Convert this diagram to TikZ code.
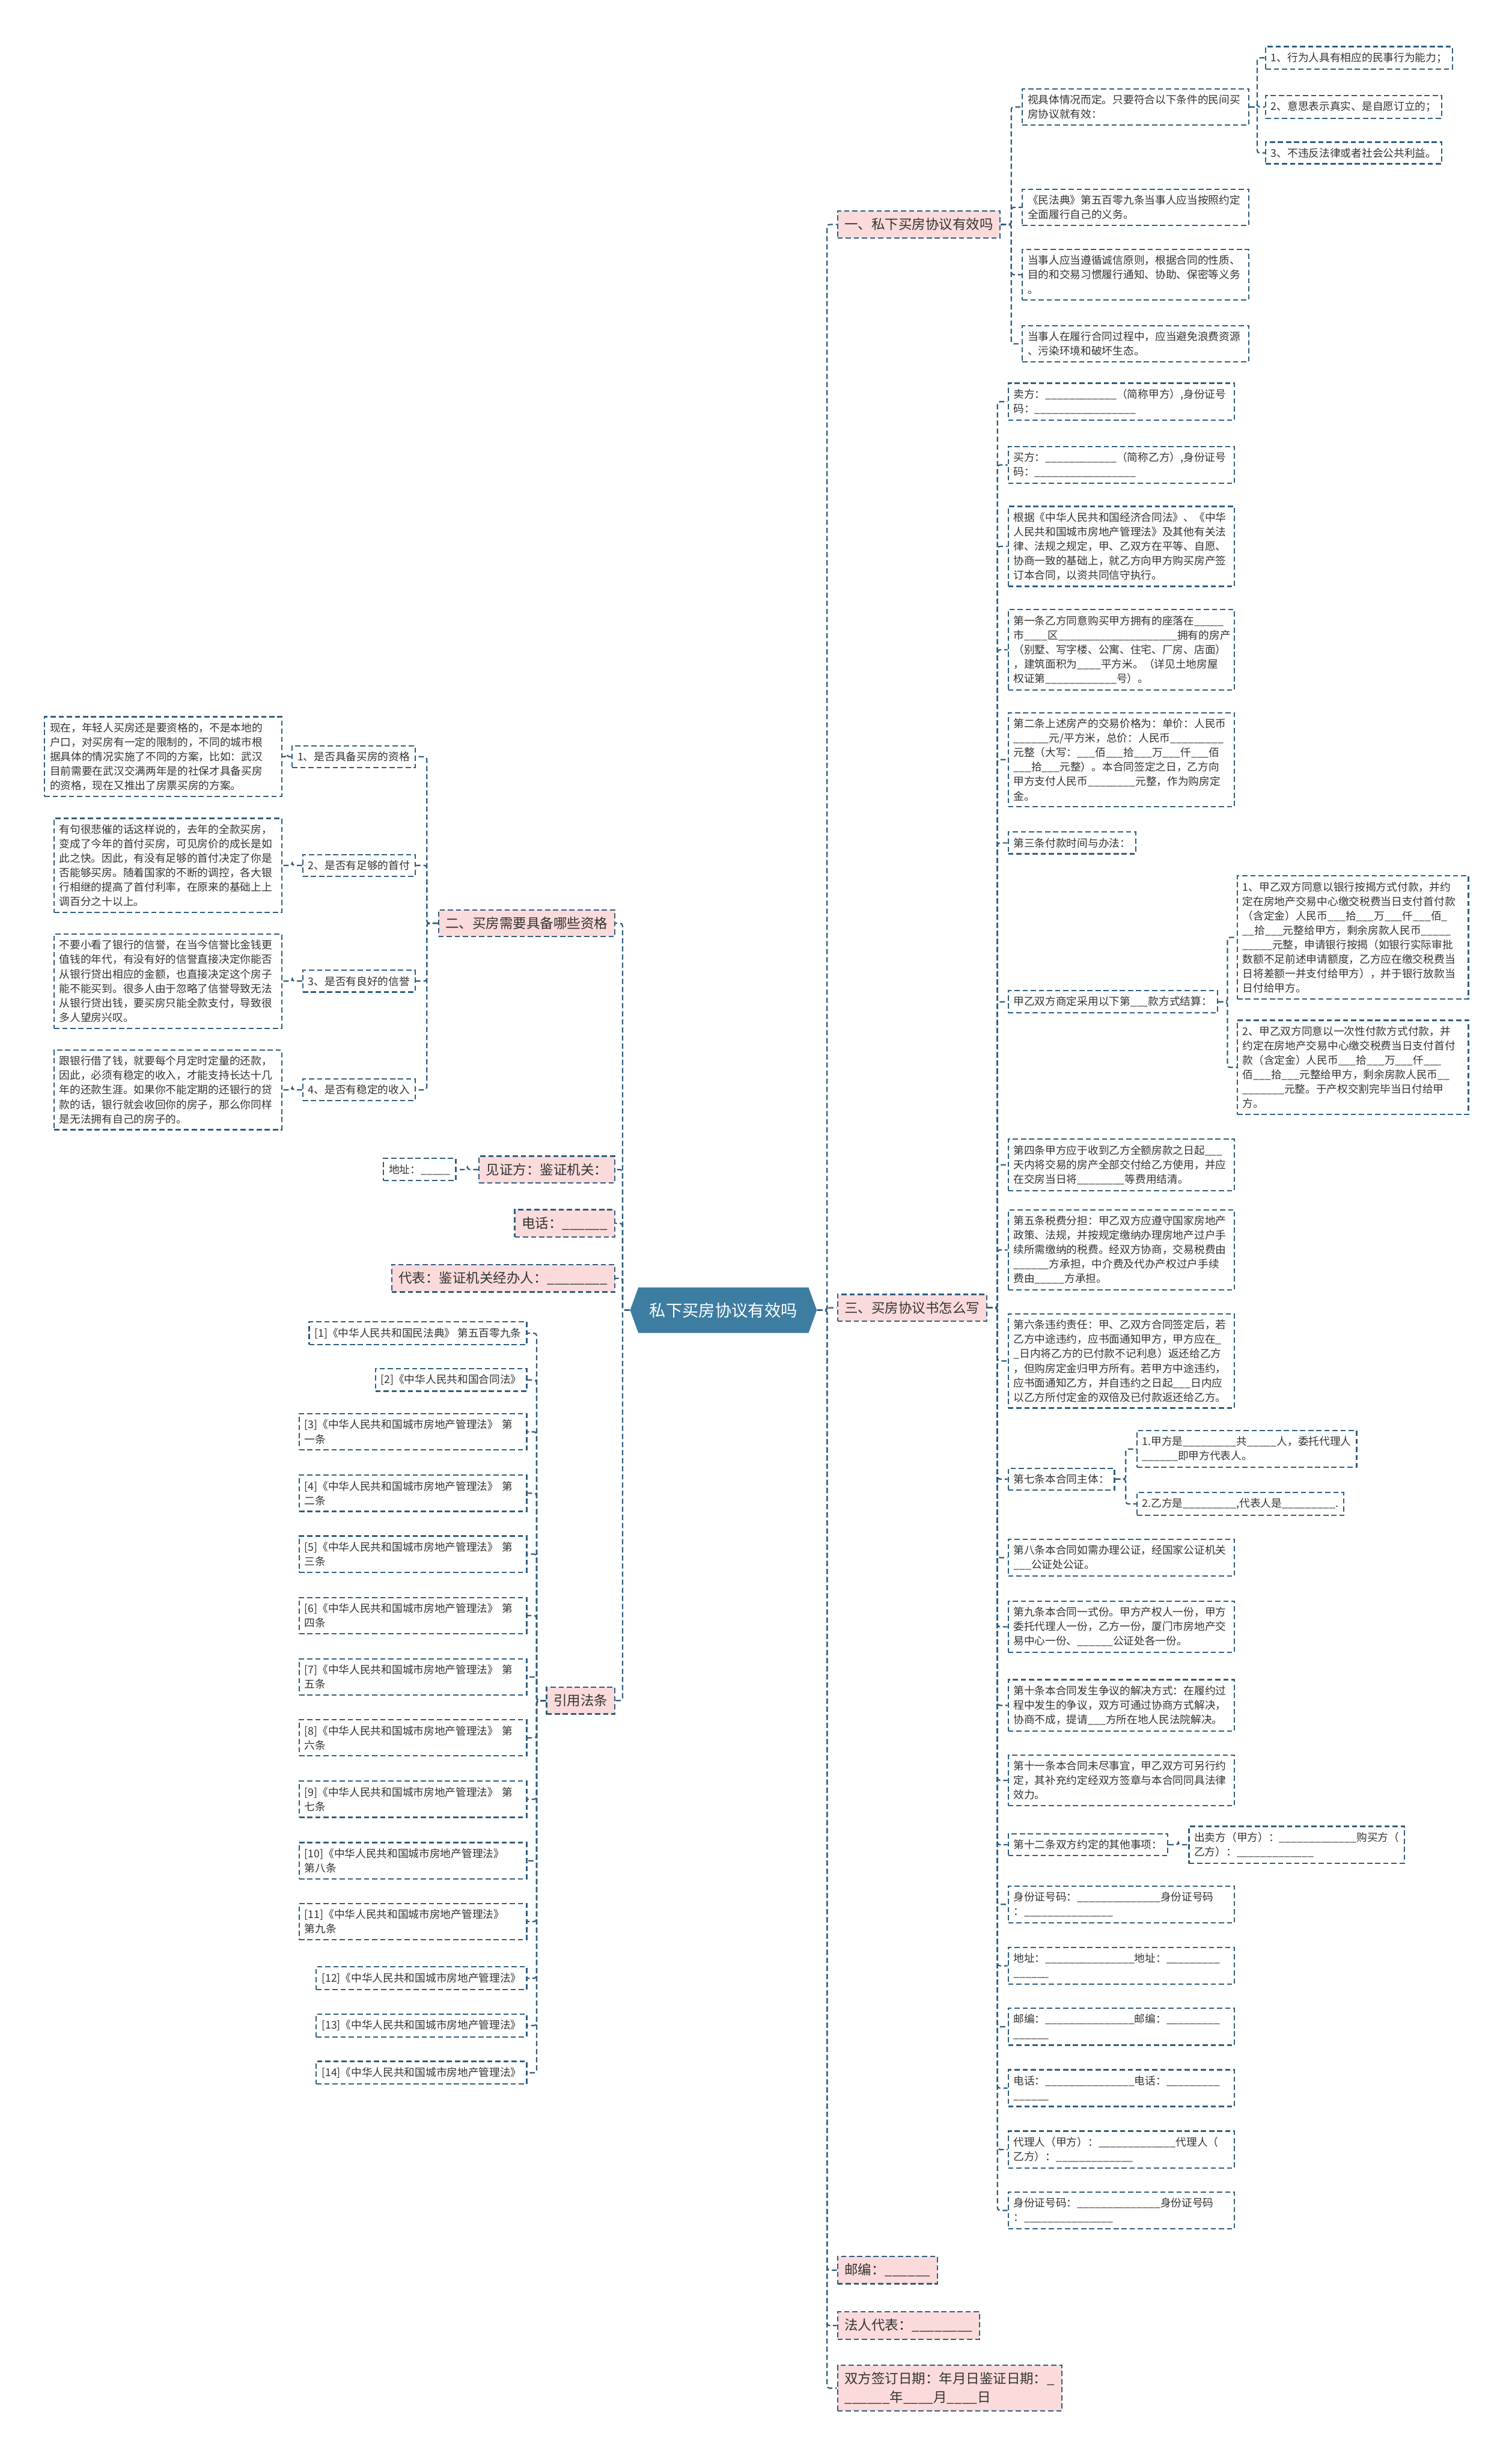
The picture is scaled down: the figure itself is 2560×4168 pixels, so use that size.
\documentclass[tikz,border=0pt]{standalone}
\usepackage{fontspec}
\setmainfont{Noto Sans CJK SC}
\usepackage{tikz}
\usetikzlibrary{backgrounds,calc,shapes.symbols}
\definecolor{linkcolor}{HTML}{2F5E80}
\definecolor{branchfill}{HTML}{FADADA}
\definecolor{rootfill}{HTML}{3E7DA2}
\definecolor{textcolor}{HTML}{333333}
\newcommand{\blk}[1]{\foreach\k in {1,...,#1}{\_}}
\tikzset{
  root node/.style={
    signal,
    signal to=east and west,
    signal pointer angle=140,
    fill=rootfill,
    text=white,
    minimum width=3.16cm,
    minimum height=0.77cm,
    inner sep=0pt,
    font=\fontsize{7.9pt}{9pt}\selectfont
  },
  branch node/.style={
    draw=linkcolor,
    fill=branchfill,
    dash pattern=on 2.5pt off 1.4pt,
    line width=0.65pt,
    inner sep=0.12cm,
    align=left,
    text=textcolor,
    font=\fontsize{6.5pt}{8.8pt}\selectfont
  },
  leaf node/.style={
    draw=linkcolor,
    fill=white,
    dash pattern=on 2.5pt off 1.4pt,
    line width=0.65pt,
    inner xsep=0.09cm,
    inner ysep=0.1cm,
    align=left,
    text=textcolor,
    font=\fontsize{5.12pt}{6.97pt}\selectfont
  },
  wide/.style={text width=#1},
  wide/.default=3.65cm,
  elbow/.style={
    to path={-- ($(\tikztostart)!0.5!(\tikztotarget |- \tikztostart)$) |- (\tikztotarget)}
  },
  link/.style={
    draw=linkcolor,
    line width=0.65pt,
    dash pattern=on 2.5pt off 1.4pt,
    rounded corners=1.2pt,
    elbow
  }
}
\newcommand{\connectright}[2]{%
  \begin{scope}[on background layer]
    \foreach \c in {#2}{
      \draw[link] (#1.east) to (\c.west);
    }
  \end{scope}
}
\newcommand{\connectleft}[2]{%
  \begin{scope}[on background layer]
    \foreach \c in {#2}{
      \draw[link] (#1.west) to (\c.east);
    }
  \end{scope}
}

\begin{document}
\begin{tikzpicture}[x=0.01cm,y=-0.01cm]
  \begin{scope}[on background layer]
    \path[use as bounding box,fill=white] (0,0) rectangle (2560,4168);
  \end{scope}

  \node[root node] (root) at (1225,2218) {私下买房协议有效吗};

  % right side
  \node[branch node,anchor=west] (sec1) at (1417,380) {一、私下买房协议有效吗};
  \node[branch node,anchor=west] (sec3) at (1417,2214) {三、买房协议书怎么写};
  \node[branch node,anchor=west] (zip) at (1417,3843) {邮编：\blk{6}};
  \node[branch node,anchor=west] (legal) at (1417,3937) {法人代表：\blk{8}};
  \node[branch node,anchor=west] (date) at (1417,4043)
    {双方签订日期：年月日鉴证日期：\_\\\blk{6}年\blk{4}月\blk{4}日};

  \node[leaf node,wide,anchor=west] (a1) at (1730,181)
    {视具体情况而定。只要符合以下条件的民间买\\房协议就有效：};
  \node[leaf node,wide,anchor=west] (a2) at (1730,351)
    {《民法典》第五百零九条当事人应当按照约定\\全面履行自己的义务。};
  \node[leaf node,wide,anchor=west] (a3) at (1730,465)
    {当事人应当遵循诚信原则，根据合同的性质、\\目的和交易习惯履行通知、协助、保密等义务\\。};
  \node[leaf node,wide,anchor=west] (a4) at (1730,582)
    {当事人在履行合同过程中，应当避免浪费资源\\、污染环境和破坏生态。};

  \node[leaf node,anchor=west] (n1) at (2142,98) {1、行为人具有相应的民事行为能力；};
  \node[leaf node,anchor=west] (n2) at (2142,181) {2、意思表示真实、是自愿订立的；};
  \node[leaf node,anchor=west] (n3) at (2142,259) {3、不违反法律或者社会公共利益。};

  \node[leaf node,wide,anchor=west] (b1) at (1706,680)
    {卖方：\blk{12}（简称甲方）,身份证号\\码：\blk{17}};
  \node[leaf node,wide,anchor=west] (b2) at (1706,787)
    {买方：\blk{12}（简称乙方）,身份证号\\码：\blk{17}};
  \node[leaf node,wide,anchor=west] (b3) at (1706,925)
    {根据《中华人民共和国经济合同法》、《中华\\人民共和国城市房地产管理法》及其他有关法\\律、法规之规定，甲、乙双方在平等、自愿、\\协商一致的基础上，就乙方向甲方购买房产签\\订本合同，以资共同信守执行。};
  \node[leaf node,wide,anchor=west] (b4) at (1706,1100)
    {第一条乙方同意购买甲方拥有的座落在\blk{5}\\市\blk{4}区\blk{20}拥有的房产\\（别墅、写字楼、公寓、住宅、厂房、店面）\\，建筑面积为\blk{4}平方米。（详见土地房屋\\权证第\blk{12}号）。};
  \node[leaf node,wide,anchor=west] (b5) at (1706,1286)
    {第二条上述房产的交易价格为：单价：人民币\\\blk{6}元/平方米，总价：人民币\blk{9}\\元整（大写：\blk{3}佰\blk{3}拾\blk{3}万\blk{3}仟\blk{3}佰\\\blk{3}拾\blk{3}元整）。本合同签定之日，乙方向\\甲方支付人民币\blk{8}元整，作为购房定\\金。};
  \node[leaf node,anchor=west] (b6) at (1706,1427) {第三条付款时间与办法：};
  \node[leaf node,anchor=west] (b7) at (1706,1696) {甲乙双方商定采用以下第\blk{3}款方式结算：};
  \node[leaf node,wide=3.73cm,anchor=west] (c1) at (2094,1587)
    {1、甲乙双方同意以银行按揭方式付款，并约\\定在房地产交易中心缴交税费当日支付首付款\\（含定金）人民币\blk{3}拾\blk{3}万\blk{3}仟\blk{3}佰\_\\\blk{2}拾\blk{3}元整给甲方，剩余房款人民币\blk{5}\\\blk{5}元整，申请银行按揭（如银行实际审批\\数额不足前述申请额度，乙方应在缴交税费当\\日将差额一并支付给甲方），并于银行放款当\\日付给甲方。};
  \node[leaf node,wide=3.73cm,anchor=west] (c2) at (2094,1807)
    {2、甲乙双方同意以一次性付款方式付款，并\\约定在房地产交易中心缴交税费当日支付首付\\款（含定金）人民币\blk{3}拾\blk{3}万\blk{3}仟\blk{3}\\佰\blk{3}拾\blk{3}元整给甲方，剩余房款人民币\blk{2}\\\blk{7}元整。于产权交割完毕当日付给甲\\方。};
  \node[leaf node,wide,anchor=west] (b8) at (1706,1972)
    {第四条甲方应于收到乙方全额房款之日起\blk{3}\\天内将交易的房产全部交付给乙方使用，并应\\在交房当日将\blk{8}等费用结清。};
  \node[leaf node,wide,anchor=west] (b9) at (1706,2116)
    {第五条税费分担：甲乙双方应遵守国家房地产\\政策、法规，并按规定缴纳办理房地产过户手\\续所需缴纳的税费。经双方协商，交易税费由\\\blk{6}方承担，中介费及代办产权过户手续\\费由\blk{5}方承担。};
  \node[leaf node,wide,anchor=west] (b10) at (1706,2304)
    {第六条违约责任：甲、乙双方合同签定后，若\\乙方中途违约，应书面通知甲方，甲方应在\_\\\_日内将乙方的已付款不记利息）返还给乙方\\，但购房定金归甲方所有。若甲方中途违约，\\应书面通知乙方，并自违约之日起\blk{3}日内应\\以乙方所付定金的双倍及已付款返还给乙方。};
  \node[leaf node,anchor=west] (b11) at (1706,2504) {第七条本合同主体：};
  \node[leaf node,anchor=west] (d1) at (1924,2453)
    {1.甲方是\blk{9}共\blk{5}人，委托代理人\\\blk{6}即甲方代表人。};
  \node[leaf node,anchor=west] (d2) at (1924,2546) {2.乙方是\blk{9},代表人是\blk{9}.};
  \node[leaf node,wide,anchor=west] (b12) at (1706,2637)
    {第八条本合同如需办理公证，经国家公证机关\\\blk{3}公证处公证。};
  \node[leaf node,wide,anchor=west] (b13) at (1706,2754)
    {第九条本合同一式份。甲方产权人一份，甲方\\委托代理人一份，乙方一份，厦门市房地产交\\易中心一份、\blk{6}公证处各一份。};
  \node[leaf node,wide,anchor=west] (b14) at (1706,2887)
    {第十条本合同发生争议的解决方式：在履约过\\程中发生的争议，双方可通过协商方式解决，\\协商不成，提请\blk{3}方所在地人民法院解决。};
  \node[leaf node,wide,anchor=west] (b15) at (1706,3014)
    {第十一条本合同未尽事宜，甲乙双方可另行约\\定，其补充约定经双方签章与本合同同具法律\\效力。};
  \node[leaf node,anchor=west] (b16) at (1706,3123) {第十二条双方约定的其他事项：};
  \node[leaf node,anchor=west] (e1) at (2012,3123)
    {出卖方（甲方）：\blk{13}购买方（\\乙方）：\blk{13}};
  \node[leaf node,wide,anchor=west] (b17) at (1706,3224)
    {身份证号码：\blk{14}身份证号码\\：\blk{15}};
  \node[leaf node,wide,anchor=west] (b18) at (1706,3328)
    {地址：\blk{15}地址：\blk{9}\\\blk{6}};
  \node[leaf node,wide,anchor=west] (b19) at (1706,3431)
    {邮编：\blk{15}邮编：\blk{9}\\\blk{6}};
  \node[leaf node,wide,anchor=west] (b20) at (1706,3535)
    {电话：\blk{15}电话：\blk{9}\\\blk{6}};
  \node[leaf node,wide,anchor=west] (b21) at (1706,3639)
    {代理人（甲方）：\blk{13}代理人（\\乙方）：\blk{13}};
  \node[leaf node,wide,anchor=west] (b22) at (1706,3742)
    {身份证号码：\blk{14}身份证号码\\：\blk{15}};

  % left side
  \node[branch node,anchor=east] (sec2) at (1042,1563) {二、买房需要具备哪些资格};
  \node[branch node,anchor=east] (witness) at (1042,1980) {见证方：鉴证机关：};
  \node[branch node,anchor=east] (tel) at (1042,2071) {电话：\blk{6}};
  \node[branch node,anchor=east] (agent) at (1042,2164) {代表：鉴证机关经办人：\blk{8}};
  \node[branch node,anchor=east] (cite) at (1042,2879) {引用法条};

  \node[leaf node,anchor=east] (f1) at (704,1281) {1、是否具备买房的资格};
  \node[leaf node,anchor=east] (f2) at (704,1465) {2、是否有足够的首付};
  \node[leaf node,anchor=east] (f3) at (704,1661) {3、是否有良好的信誉};
  \node[leaf node,anchor=east] (f4) at (704,1845) {4、是否有稳定的收入};
  \node[leaf node,wide=3.83cm,anchor=east] (g1) at (478,1281)
    {现在，年轻人买房还是要资格的，不是本地的\\户口，对买房有一定的限制的，不同的城市根\\据具体的情况实施了不同的方案，比如：武汉\\目前需要在武汉交满两年是的社保才具备买房\\的资格，现在又推出了房票买房的方案。};
  \node[leaf node,wide=3.67cm,anchor=east] (g2) at (478,1465)
    {有句很悲催的话这样说的，去年的全款买房，\\变成了今年的首付买房，可见房价的成长是如\\此之快。因此，有没有足够的首付决定了你是\\否能够买房。随着国家的不断的调控，各大银\\行相继的提高了首付利率，在原来的基础上上\\调百分之十以上。};
  \node[leaf node,wide=3.67cm,anchor=east] (g3) at (478,1661)
    {不要小看了银行的信誉，在当今信誉比金钱更\\值钱的年代，有没有好的信誉直接决定你能否\\从银行贷出相应的金额，也直接决定这个房子\\能不能买到。很多人由于忽略了信誉导致无法\\从银行贷出钱，要买房只能全款支付，导致很\\多人望房兴叹。};
  \node[leaf node,wide=3.67cm,anchor=east] (g4) at (478,1845)
    {跟银行借了钱，就要每个月定时定量的还款，\\因此，必须有稳定的收入，才能支持长达十几\\年的还款生涯。如果你不能定期的还银行的贷\\款的话，银行就会收回你的房子，那么你同样\\是无法拥有自己的房子的。};
  \node[leaf node,anchor=east] (waddr) at (773,1980) {地址：\blk{5}};

  \node[leaf node,anchor=east] (h1) at (893,2257) {[1]《中华人民共和国民法典》 第五百零九条};
  \node[leaf node,anchor=east] (h2) at (893,2336) {[2]《中华人民共和国合同法》};
  \node[leaf node,wide=3.67cm,anchor=east] (h3) at (893,2424) {[3]《中华人民共和国城市房地产管理法》 第\\一条};
  \node[leaf node,wide=3.67cm,anchor=east] (h4) at (893,2528) {[4]《中华人民共和国城市房地产管理法》 第\\二条};
  \node[leaf node,wide=3.67cm,anchor=east] (h5) at (893,2631) {[5]《中华人民共和国城市房地产管理法》 第\\三条};
  \node[leaf node,wide=3.67cm,anchor=east] (h6) at (893,2735) {[6]《中华人民共和国城市房地产管理法》 第\\四条};
  \node[leaf node,wide=3.67cm,anchor=east] (h7) at (893,2839) {[7]《中华人民共和国城市房地产管理法》 第\\五条};
  \node[leaf node,wide=3.67cm,anchor=east] (h8) at (893,2942) {[8]《中华人民共和国城市房地产管理法》 第\\六条};
  \node[leaf node,wide=3.67cm,anchor=east] (h9) at (893,3046) {[9]《中华人民共和国城市房地产管理法》 第\\七条};
  \node[leaf node,wide=3.67cm,anchor=east] (h10) at (893,3150) {[10]《中华人民共和国城市房地产管理法》\\第八条};
  \node[leaf node,wide=3.67cm,anchor=east] (h11) at (893,3253) {[11]《中华人民共和国城市房地产管理法》\\第九条};
  \node[leaf node,anchor=east] (h12) at (893,3349) {[12]《中华人民共和国城市房地产管理法》};
  \node[leaf node,anchor=east] (h13) at (893,3429) {[13]《中华人民共和国城市房地产管理法》};
  \node[leaf node,anchor=east] (h14) at (893,3509) {[14]《中华人民共和国城市房地产管理法》};

  % connectors
  \connectright{root}{sec1,sec3,zip,legal,date}
  \connectleft{root}{sec2,witness,tel,agent,cite}
  \connectright{sec1}{a1,a2,a3,a4}
  \connectright{a1}{n1,n2,n3}
  \connectright{sec3}{b1,b2,b3,b4,b5,b6,b7,b8,b9,b10,b11,b12,b13,b14,b15,b16,b17,b18,b19,b20,b21,b22}
  \connectright{b7}{c1,c2}
  \connectright{b11}{d1,d2}
  \connectright{b16}{e1}
  \connectleft{sec2}{f1,f2,f3,f4}
  \connectleft{f1}{g1}
  \connectleft{f2}{g2}
  \connectleft{f3}{g3}
  \connectleft{f4}{g4}
  \connectleft{witness}{waddr}
  \connectleft{cite}{h1,h2,h3,h4,h5,h6,h7,h8,h9,h10,h11,h12,h13,h14}
\end{tikzpicture}
\end{document}
